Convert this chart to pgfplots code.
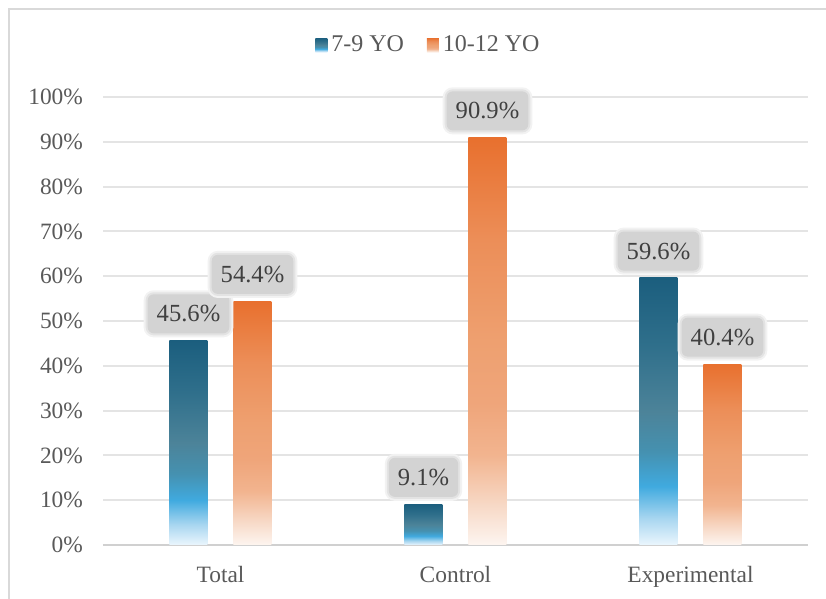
\documentclass[border=0pt]{standalone}
\usepackage{pgfplots}
\pgfplotsset{compat=1.18}
\usepackage{fontspec}
\setmainfont{Liberation Serif}

\definecolor{txt}{HTML}{595959}
\definecolor{lbltxt}{HTML}{404040}
\definecolor{lblfill}{HTML}{D3D3D3}
\definecolor{gridc}{HTML}{E4E4E4}
\definecolor{axc}{HTML}{D0D0D0}
\definecolor{bordc}{HTML}{D9D9D9}

% blue series, bottom to top
\definecolor{b0}{HTML}{EBF6FD}
\definecolor{b1}{HTML}{A8D6F0}
\definecolor{b2}{HTML}{40AADF}
\definecolor{b3}{HTML}{4591B0}
\definecolor{b4}{HTML}{4C8399}
\definecolor{b5}{HTML}{2F6F8B}
\definecolor{b6}{HTML}{1B5E7E}
% orange series, bottom to top
\definecolor{o0}{HTML}{FDF5F0}
\definecolor{o1}{HTML}{F7D8C5}
\definecolor{o2}{HTML}{F2B48F}
\definecolor{o3}{HTML}{EFA57A}
\definecolor{o4}{HTML}{EEA070}
\definecolor{o5}{HTML}{EC8E58}
\definecolor{o6}{HTML}{E8702E}

% the shaded path spans 25bp..75bp of the 100bp shading
\pgfdeclareverticalshading{blueshade}{100bp}{color(0bp)=(b0); color(25bp)=(b0); color(30bp)=(b1); color(36bp)=(b2); color(42.5bp)=(b3); color(50bp)=(b4); color(62.5bp)=(b5); color(75bp)=(b6); color(100bp)=(b6)}
\pgfdeclareverticalshading{orangeshade}{100bp}{color(0bp)=(o0); color(25bp)=(o0); color(30bp)=(o1); color(36bp)=(o2); color(42.5bp)=(o3); color(50bp)=(o4); color(62.5bp)=(o5); color(75bp)=(o6); color(100bp)=(o6)}

\newcommand\lbl{\fontsize{11.7pt}{14pt}\selectfont}
\newcommand\lgd{\fontsize{12pt}{14pt}\selectfont}
\newcommand\vlbl{\fontsize{12.3pt}{14pt}\selectfont}

% one bar per plot, so that every bar carries its own full gradient
\pgfplotsset{
  bluebar/.style={draw=none, shading=blueshade, bar shift=-16pt,
    legend image code/.code={\shade[shading=blueshade] (0pt,-3.5pt) rectangle (6pt,3.5pt);}},
  orangebar/.style={draw=none, shading=orangeshade, bar shift=16pt,
    legend image code/.code={\shade[shading=orangeshade] (0pt,-3.5pt) rectangle (6pt,3.5pt);}},
}

\begin{document}
\begin{tikzpicture}
\path[use as bounding box] (-51.5pt,-27pt) rectangle (361.5pt,272.5pt);
\draw[bordc, line width=1pt] (-47pt,-60pt) rectangle (400pt,268pt);
\begin{axis}[
  scale only axis, width=352.5pt, height=224pt,
  ybar, bar width=19pt,
  xmin=-0.5, xmax=2.5, ymin=0, ymax=100,
  xtick={0,1,2}, xticklabels={Total,Control,Experimental},
  ytick={0,10,...,100}, yticklabel={\pgfmathprintnumber{\tick}\%},
  /pgf/number format/assume math mode=true,
  axis x line*=bottom, axis y line*=left,
  x axis line style={draw=axc, line width=1.2pt, -},
  y axis line style={draw=none, -},
  major tick length=0pt, tick style={draw=none},
  ymajorgrids, grid style={gridc, line width=1pt},
  tick label style={font=\lbl, text=txt},
  xticklabel style={yshift=-7pt},
  yticklabel style={xshift=-6.5pt},
  clip=false,
  nodes near coords={\pgfmathprintnumber[fixed,precision=1,fixed zerofill]{\pgfplotspointmeta}\%},
  nodes near coords style={font=\vlbl, text=lbltxt, fill=lblfill, rounded corners=3pt,
    inner xsep=4.5pt, inner ysep=0pt, minimum height=19.5pt, anchor=south, yshift=3.5pt,
    preaction={draw=black!5, line width=4pt},
    preaction={draw=black!11, line width=2pt}},
  legend style={at={(0.292,1.116)}, anchor=west, draw=none, fill=none,
    legend columns=-1, font=\lgd, text=txt,
    /tikz/every even column/.append style={column sep=9.5pt}},
]
% 7-9 YO
\addplot[bluebar] coordinates {(0,45.6)};
\addlegendentry{7-9 YO}
\addplot[orangebar] coordinates {(0,54.4)};
\addlegendentry{10-12 YO}
\addplot[bluebar, forget plot] coordinates {(1,9.1)};
\addplot[bluebar, forget plot] coordinates {(2,59.6)};
% 10-12 YO
\addplot[orangebar, forget plot] coordinates {(1,90.9)};
\addplot[orangebar, forget plot] coordinates {(2,40.4)};
\end{axis}
\end{tikzpicture}
\end{document}
